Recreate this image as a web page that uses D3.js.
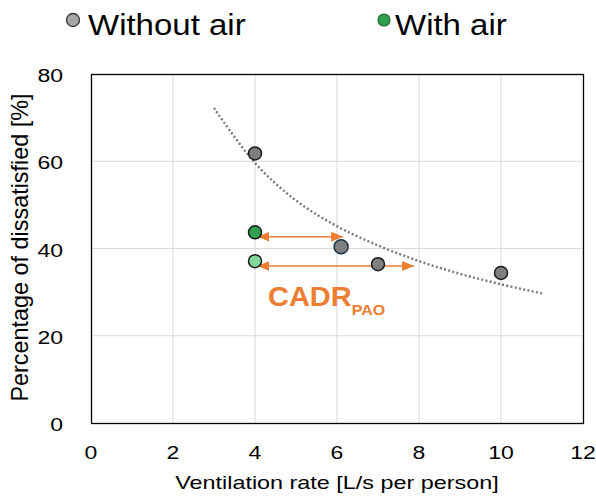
<!DOCTYPE html>
<html>
<head>
<meta charset="utf-8">
<script src="https://cdn.jsdelivr.net/npm/d3@7"></script>
<style>
  body { margin: 0; background: #fff; }
  text { font-family: Arial, "Liberation Sans", sans-serif; fill: #000; }
</style>
</head>
<body>
<div id="chart"></div>
<script>
// data
var withoutAirX = [4, 6.1, 7, 10];
var withoutAirY = [61.8, 40.4, 36.4, 34.4];
var withAirX = [4, 4];
var withAirY = [43.7, 37.1];
var fitX = [3, 4, 5, 6, 7, 8, 9, 10, 11];      // dotted trend line
var fitY = [72.2, 59.6, 51.0, 45.1, 40.7, 37.1, 34.2, 31.8, 29.7];
var arrowFrom = [4.06, 4.06];
var arrowTo = [6.15, 7.88];
var arrowY = [42.7, 36.0];
var xTicks = [0, 2, 4, 6, 8, 10, 12];
var yTicks = [0, 20, 40, 60, 80];

var W = 596, H = 497;
var pLeft = 91, pRight = 583, pTop = 74, pBottom = 423;
var orange = "#ed7d31";

var svg = d3.select("#chart").append("svg")
    .attr("width", W)
    .attr("height", H);

var x = d3.scaleLinear().domain([0, 12]).range([pLeft, pRight]);
var y = d3.scaleLinear().domain([0, 80]).range([pBottom, pTop]);

// text in the picture is a bit squashed vertically
function label(txt, tx, ty, size, sy, anchor){
    return svg.append("g")
        .attr("transform", "translate(" + tx + "," + ty + ") scale(1," + sy + ")")
        .append("text")
        .attr("font-size", size)
        .attr("text-anchor", anchor || "start")
        .text(txt);
}

// grid
svg.append("g").selectAll("line")
    .data(xTicks.slice(1, -1))
    .enter().append("line")
    .attr("x1", function(d){return x(d);})
    .attr("x2", function(d){return x(d);})
    .attr("y1", pTop).attr("y2", pBottom)
    .attr("stroke", "#d9d9d9");
svg.append("g").selectAll("line")
    .data(yTicks.slice(1, -1))
    .enter().append("line")
    .attr("y1", function(d){return y(d);})
    .attr("y2", function(d){return y(d);})
    .attr("x1", pLeft).attr("x2", pRight)
    .attr("stroke", "#d9d9d9");

// frame
svg.append("rect")
    .attr("x", pLeft + 0.5).attr("y", pTop + 0.5)
    .attr("width", pRight - pLeft).attr("height", pBottom - pTop)
    .attr("fill", "none")
    .attr("stroke", "#000")
    .attr("stroke-width", 1.3);

// tick labels
xTicks.forEach(function(t){
    label(t, x(t), 459, 23, 0.82, "middle");
});
yTicks.forEach(function(t){
    label(t, 63, y(t) + 8, 23, 0.82, "end");
});

// axis titles
label("Ventilation rate [L/s per person]", (pLeft + pRight) / 2, 489, 23.4, 0.8, "middle");
svg.append("text")
    .attr("transform", "translate(28,247.5) rotate(-90)")
    .attr("font-size", 23.4)
    .attr("text-anchor", "middle")
    .text("Percentage of dissatisfied [%]");

// trend line
var fitLine = d3.line()
    .x(function(d){return x(d[0]);})
    .y(function(d){return y(d[1]);})
    .curve(d3.curveCatmullRom);
svg.append("path")
    .attr("d", fitLine(d3.zip(fitX, fitY)))
    .attr("fill", "none")
    .attr("stroke", "#7a7a7a")
    .attr("stroke-width", 2.4)
    .attr("stroke-dasharray", "2,2.3");

// arrows
var defs = svg.append("defs");
defs.append("marker")
    .attr("id", "head")
    .attr("viewBox", "0 0 12 10")
    .attr("refX", 12).attr("refY", 5)
    .attr("markerWidth", 12).attr("markerHeight", 10)
    .attr("markerUnits", "userSpaceOnUse")
    .attr("orient", "auto-start-reverse")
    .append("path")
    .attr("d", "M0,0 L12,5 L0,10 Z")
    .attr("fill", orange);

svg.append("g").selectAll("line")
    .data(d3.range(arrowY.length))
    .enter().append("line")
    .attr("x1", function(i){return x(arrowFrom[i]);})
    .attr("x2", function(i){return x(arrowTo[i]);})
    .attr("y1", function(i){return y(arrowY[i]);})
    .attr("y2", function(i){return y(arrowY[i]);})
    .attr("stroke", orange)
    .attr("stroke-width", 1.6)
    .attr("marker-start", "url(#head)")
    .attr("marker-end", "url(#head)");

// points
var grayFill = ["#7f7f7f", "#7f7f7f", "#7f7f7f", "#7f7f7f"];
var grayStroke = ["#1a1a1a", "#1d3444", "#1a1a1a", "#1a1a1a"];
svg.append("g").selectAll("circle")
    .data(d3.range(withoutAirX.length))
    .enter().append("circle")
    .attr("cx", function(i){return x(withoutAirX[i]);})
    .attr("cy", function(i){return y(withoutAirY[i]);})
    .attr("r", function(i){return i == 1 ? 7 : 6.5;})
    .attr("fill", function(i){return grayFill[i];})
    .attr("stroke", function(i){return grayStroke[i];})
    .attr("stroke-width", 1.5);

var greenFill = ["#2ea04f", "#7fd897"];
svg.append("g").selectAll("circle")
    .data(d3.range(withAirX.length))
    .enter().append("circle")
    .attr("cx", function(i){return x(withAirX[i]);})
    .attr("cy", function(i){return y(withAirY[i]);})
    .attr("r", 6.5)
    .attr("fill", function(i){return greenFill[i];})
    .attr("stroke", "#1a1a1a")
    .attr("stroke-width", 1.5);

// CADR annotation
var cadr = svg.append("g")
    .attr("transform", "translate(268,306) scale(1,0.95)")
    .append("text")
    .attr("font-size", 29)
    .attr("font-weight", "bold")
    .style("fill", orange);
cadr.append("tspan").text("CADR");
cadr.append("tspan")
    .attr("font-size", 16)
    .attr("dy", 9)
    .text("PAO");

// legend
svg.append("circle")
    .attr("cx", 73).attr("cy", 20).attr("r", 6.5)
    .attr("fill", "#a6a6a6").attr("stroke", "#333").attr("stroke-width", 1.3);
label("Without air", 88, 35, 33, 0.92);
svg.append("circle")
    .attr("cx", 384).attr("cy", 20).attr("r", 6)
    .attr("fill", "#2ea04f").attr("stroke", "#1e6b34").attr("stroke-width", 1.2);
label("With air", 395, 35, 33, 0.92);
</script>
</body>
</html>
